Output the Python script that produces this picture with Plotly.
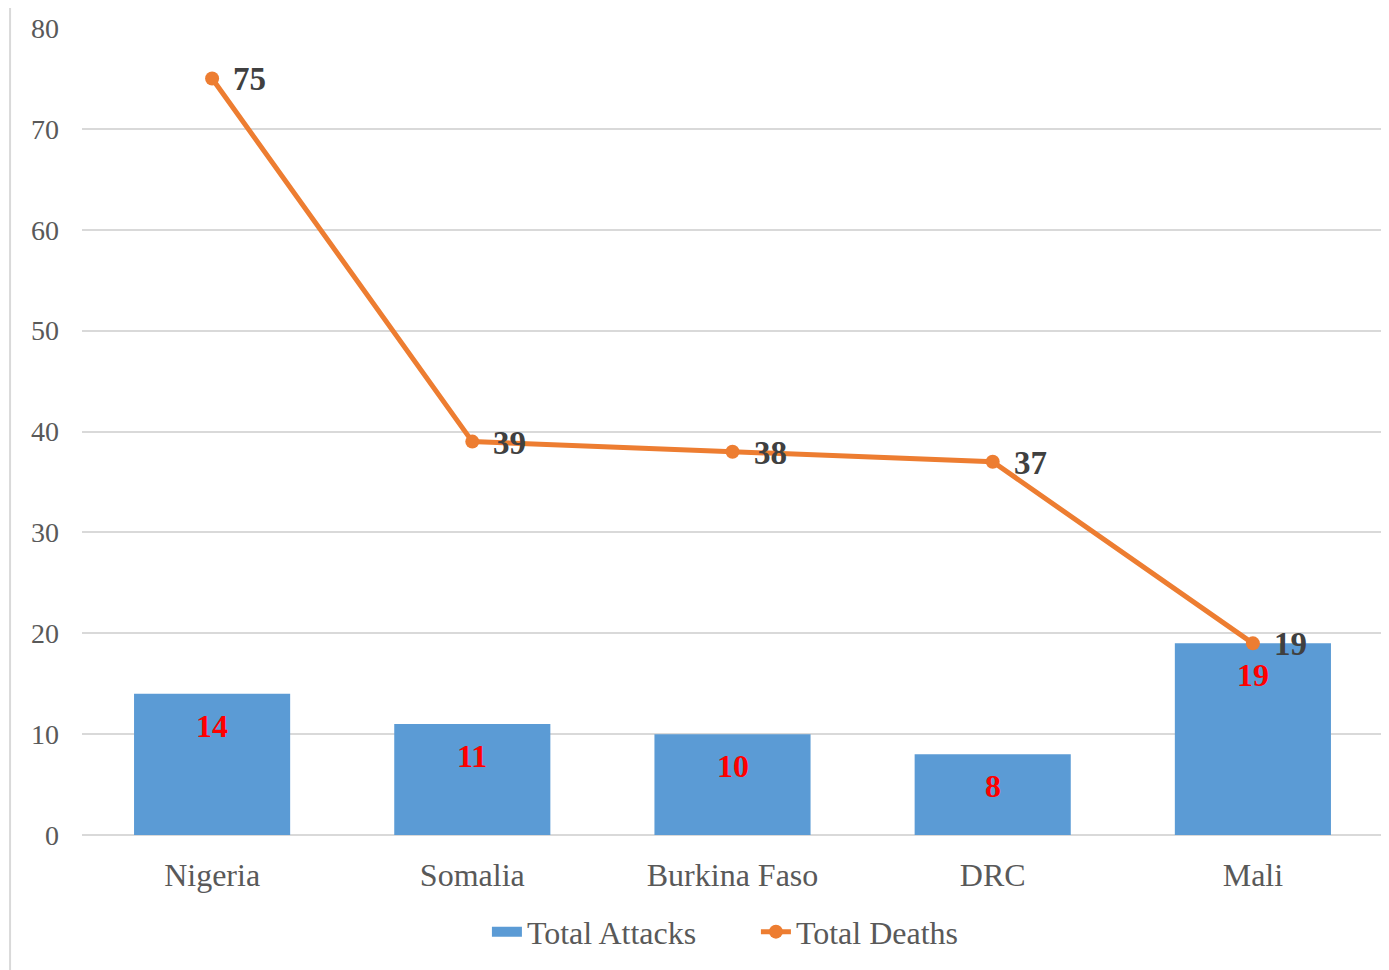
import plotly.graph_objects as go

categories = ["Nigeria", "Somalia", "Burkina Faso", "DRC", "Mali"]
total_attacks = [14, 11, 10, 8, 19]
total_deaths = [75, 39, 38, 37, 19]
y_ticks = [0, 10, 20, 30, 40, 50, 60, 70, 80]

FONT = "Liberation Serif, Times New Roman, serif"
BLUE = "#5B9BD5"
ORANGE = "#ED7D31"

fig = go.Figure()
fig.add_trace(go.Bar(
    x=categories, y=total_attacks, name="Total Attacks",
    marker=dict(color=BLUE, line=dict(width=0)), width=0.6,
    showlegend=False,
))
# legend-only entry so the bar key is drawn as a wide rectangle
fig.add_trace(go.Scatter(
    x=[None], y=[None], name="Total Attacks", mode="lines",
    line=dict(color=BLUE, width=15),
))
fig.add_trace(go.Scatter(
    x=categories, y=total_deaths, name="Total Deaths",
    mode="lines+markers",
    line=dict(color=ORANGE, width=5),
    marker=dict(color=ORANGE, size=14),
))

annotations = []
for c, v in zip(categories, total_attacks):
    annotations.append(dict(
        x=c, y=v, xref="x", yref="y", text=f"<b>{v}</b>", showarrow=False,
        yshift=-32, font=dict(family=FONT, size=32, color="#FF0000"),
    ))
for c, v in zip(categories, total_deaths):
    annotations.append(dict(
        x=c, y=v, xref="x", yref="y", text=f"<b>{v}</b>", showarrow=False,
        xanchor="left", xshift=19, yshift=-1,
        font=dict(family=FONT, size=33, color="#404040"),
    ))

fig.update_layout(
    width=1381, height=962,
    margin=dict(l=74, r=6, t=20, b=135),
    paper_bgcolor="white", plot_bgcolor="white",
    font=dict(family=FONT, size=28, color="#595959"),
    bargap=0.4,
    showlegend=True,
    legend=dict(
        orientation="h", x=0.518, xanchor="center", y=-0.12, yanchor="middle",
        font=dict(family=FONT, size=32, color="#595959"),
        traceorder="normal", entrywidth=224, entrywidthmode="pixels",
    ),
    annotations=annotations,
    shapes=[dict(
        type="line", xref="paper", yref="paper",
        x0=-0.0553, x1=-0.0553, y0=-0.2, y1=1.05,
        line=dict(color="#d9d9d9", width=2),
    )],
)
fig.update_xaxes(
    showgrid=False, showline=False, zeroline=False,
    tickfont=dict(family=FONT, size=32, color="#595959"),
    ticklabelstandoff=18,
)
fig.update_yaxes(
    range=[0, 80], tickvals=y_ticks,
    showgrid=True, gridcolor="#d9d9d9", gridwidth=1.5,
    zeroline=True, zerolinecolor="#d9d9d9", zerolinewidth=2,
    showline=False,
    tickfont=dict(family=FONT, size=28, color="#595959"),
    ticklabelstandoff=22,
)

fig.write_html("out.html")
